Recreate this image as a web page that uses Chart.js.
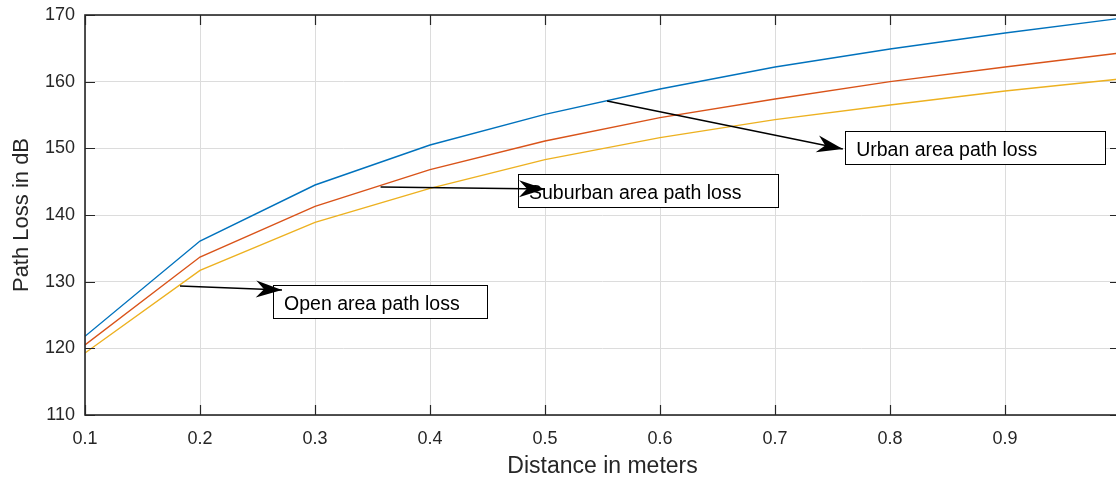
<!DOCTYPE html>
<html>
<head>
<meta charset="utf-8">
<script src="https://cdn.jsdelivr.net/npm/chart.js@4"></script>
<style>
  html, body { margin: 0; padding: 0; background: #fff; overflow: hidden; }
  #wrap { width: 1140px; height: 478px; }
</style>
</head>
<body>
<div id="wrap"><canvas id="grafico" width="1140" height="478"></canvas></div>
<script>
// Distâncias (m) e perdas de percurso (dB)
const distancias = [0.1, 0.2, 0.3, 0.4, 0.5, 0.6, 0.7, 0.8, 0.9, 1.0];
const perdaUrbana = [121.8, 136.1, 144.5, 150.5, 155.1, 158.9, 162.2, 164.9, 167.3, 169.5];
const perdaSuburbana = [120.5, 133.7, 141.3, 146.8, 151.1, 154.6, 157.4, 160.0, 162.2, 164.3];
const perdaAberta = [119.3, 131.7, 138.9, 144.0, 148.3, 151.6, 154.3, 156.5, 158.6, 160.4];
const ticksX = [0.1, 0.2, 0.3, 0.4, 0.5, 0.6, 0.7, 0.8, 0.9, 1];
const ticksY = [110, 120, 130, 140, 150, 160, 170];

// Anotações (texto + seta) em coordenadas de dados
const anotacoes = [
  { texto: 'Urban area path loss', de: [0.554, 157.1], para: [0.759, 149.9], caixa: [0.761, 152.6, 0.987, 147.65] },
  { texto: 'Suburban area path loss', de: [0.357, 144.2], para: [0.50, 143.9], caixa: [0.4765, 146.15, 0.7026, 141.2] },
  { texto: 'Open area path loss', de: [0.1826, 129.35], para: [0.2713, 128.75], caixa: [0.2635, 129.5, 0.45, 124.55] }
];

const corTexto = '#262626';
const fonte = 'Liberation Sans, Arial, sans-serif';

function serie(valores) {
  return distancias.map((x, i) => ({ x: x, y: valores[i] }));
}

// Plugin: caixa do eixo, marcas internas e anotações
const pluginMatlab = {
  id: 'pluginMatlab',
  afterDatasetsDraw(chart) {
    const ctx = chart.ctx;
    const a = chart.chartArea;
    const sx = chart.scales.x, sy = chart.scales.y;
    ctx.save();
    ctx.strokeStyle = corTexto;
    ctx.lineWidth = 1.2;
    // marcas internas
    ctx.beginPath();
    ticksX.forEach(v => {
      const px = Math.round(sx.getPixelForValue(v)) + 0.5;
      ctx.moveTo(px, a.bottom); ctx.lineTo(px, a.bottom - 10);
      ctx.moveTo(px, a.top); ctx.lineTo(px, a.top + 10);
    });
    ticksY.forEach(v => {
      const py = Math.round(sy.getPixelForValue(v)) + 0.5;
      ctx.moveTo(a.left, py); ctx.lineTo(a.left + 10, py);
      ctx.moveTo(a.right, py); ctx.lineTo(a.right - 10, py);
    });
    ctx.stroke();
    // moldura
    ctx.lineWidth = 1.6;
    ctx.strokeRect(a.left, a.top, a.right - a.left, a.bottom - a.top);

    // anotações
    anotacoes.forEach(an => {
      const x1 = sx.getPixelForValue(an.caixa[0]), y1 = sy.getPixelForValue(an.caixa[1]);
      const x2 = sx.getPixelForValue(an.caixa[2]), y2 = sy.getPixelForValue(an.caixa[3]);
      ctx.fillStyle = '#fff';
      ctx.fillRect(x1, y1, x2 - x1, y2 - y1);
      ctx.strokeStyle = '#000';
      ctx.lineWidth = 1;
      ctx.strokeRect(Math.round(x1) + 0.5, Math.round(y1) + 0.5, Math.round(x2 - x1), Math.round(y2 - y1));
      ctx.fillStyle = '#000';
      ctx.font = '19.5px ' + fonte;
      ctx.textBaseline = 'middle';
      ctx.textAlign = 'left';
      ctx.fillText(an.texto, x1 + 11, (y1 + y2) / 2 + 3);

      // seta
      const ax = sx.getPixelForValue(an.de[0]), ay = sy.getPixelForValue(an.de[1]);
      const bx = sx.getPixelForValue(an.para[0]), by = sy.getPixelForValue(an.para[1]);
      ctx.beginPath();
      ctx.moveTo(ax, ay); ctx.lineTo(bx, by);
      ctx.lineWidth = 1.3;
      ctx.stroke();
      const ang = Math.atan2(by - ay, bx - ax);
      const L = 26, W = 8.5, recuo = 18;
      ctx.beginPath();
      ctx.moveTo(bx, by);
      ctx.lineTo(bx - L * Math.cos(ang) + W * Math.sin(ang), by - L * Math.sin(ang) - W * Math.cos(ang));
      ctx.lineTo(bx - recuo * Math.cos(ang), by - recuo * Math.sin(ang));
      ctx.lineTo(bx - L * Math.cos(ang) - W * Math.sin(ang), by - L * Math.sin(ang) + W * Math.cos(ang));
      ctx.closePath();
      ctx.fill();
    });
    ctx.restore();
  }
};

const ctxGrafico = document.getElementById('grafico').getContext('2d');

const configuracao = {
  type: 'line',
  data: {
    datasets: [
      { label: 'Urban', data: serie(perdaUrbana), borderColor: '#0072BD', borderWidth: 1.4, pointRadius: 0, tension: 0 },
      { label: 'Suburban', data: serie(perdaSuburbana), borderColor: '#D95319', borderWidth: 1.4, pointRadius: 0, tension: 0 },
      { label: 'Open', data: serie(perdaAberta), borderColor: '#EDB120', borderWidth: 1.4, pointRadius: 0, tension: 0 }
    ]
  },
  options: {
    responsive: false,
    animation: false,
    layout: { padding: { top: 15, right: 20, left: 0, bottom: 0 } },
    plugins: { legend: { display: false }, tooltip: { enabled: false } },
    scales: {
      x: {
        type: 'linear',
        min: 0.1,
        max: 1,
        afterBuildTicks: s => { s.ticks = ticksX.map(v => ({ value: v })); },
        afterFit: s => { s.height = 63; },
        ticks: {
          color: corTexto,
          font: { family: fonte, size: 18 },
          padding: 13,
          maxRotation: 0,
          callback: v => String(v)
        },
        grid: { color: '#dcdcdc', drawTicks: false },
        border: { display: false },
        title: {
          display: true,
          text: 'Distance in meters',
          color: corTexto,
          font: { family: fonte, size: 23 },
          padding: { top: 6, bottom: -2 }
        }
      },
      y: {
        min: 110,
        max: 170,
        afterBuildTicks: s => { s.ticks = ticksY.map(v => ({ value: v })); },
        afterFit: s => { s.width = 85; },
        ticks: {
          color: corTexto,
          font: { family: fonte, size: 18, lineHeight: 0.5 },
          padding: 10
        },
        grid: { color: '#dcdcdc', drawTicks: false },
        border: { display: false },
        title: {
          display: true,
          text: 'Path Loss in dB',
          color: corTexto,
          font: { family: fonte, size: 22 },
          padding: { top: 9, bottom: 0 }
        }
      }
    }
  },
  plugins: [pluginMatlab]
};

const grafico = new Chart(ctxGrafico, configuracao);
</script>
</body>
</html>
